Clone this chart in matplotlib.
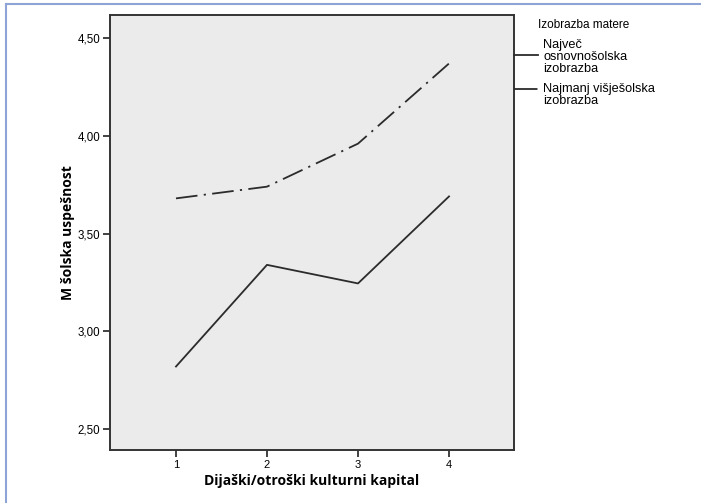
import matplotlib
matplotlib.use("Agg")
import matplotlib.pyplot as plt
from matplotlib.lines import Line2D

# data
kapital = [1, 2, 3, 4]
osnovnosolska = [2.82, 3.34, 3.245, 3.69]
visjesolska = [3.68, 3.74, 3.96, 4.37]
y_ticks = [2.5, 3.0, 3.5, 4.0, 4.5]
y_tick_labels = ["2,50", "3,00", "3,50", "4,00", "4,50"]

legend_title = "Izobrazba matere"
legend_labels = ["Največ\nosnovnošolska\nizobrazba", "Najmanj višješolska\nizobrazba"]

W, H = 701, 503
fig = plt.figure(figsize=(W / 100, H / 100), dpi=100)
ax = fig.add_axes([110 / W, 1 - 450 / H, 404 / W, 435 / H])
ax.set_facecolor("#ebebeb")

line_col = "#2b2b2b"
dashdot = (0, (12, 3.5, 1.2, 3.5))
ax.plot(kapital, osnovnosolska, color=line_col, lw=1.3)
ax.plot(kapital, visjesolska, color=line_col, lw=1.3, linestyle=dashdot)

ax.set_xlim(0.275, 4.714)
ax.set_ylim(2.393, 4.618)
ax.set_xticks(kapital)
ax.set_xticklabels([str(k) for k in kapital], fontsize=8, family="Liberation Sans")
ax.set_yticks(y_ticks)
ax.set_yticklabels(y_tick_labels, fontsize=8.3, family="Liberation Sans")
ax.tick_params(direction="out", length=5, width=1.3, color="#333333", pad=2)

for s in ax.spines.values():
    s.set_color("#333333")
    s.set_linewidth(1.4)

ax.set_xlabel("Dijaški/otroški kulturni kapital", fontsize=10,
              fontweight="bold", family="Open Sans", labelpad=3)
ax.set_ylabel("M šolska uspešnost", fontsize=10,
              fontweight="bold", family="Open Sans", labelpad=2)

# legend on the right, drawn by hand
fig.text(538 / W, 1 - 25 / H, legend_title, fontsize=8.5,
         family="Liberation Sans", va="center", ha="left")
fig.text(543 / W, 1 - 57 / H, legend_labels[0], fontsize=9.2,
         family="Liberation Sans", va="center", ha="left", linespacing=0.95)
fig.text(543 / W, 1 - 95 / H, legend_labels[1], fontsize=9.2,
         family="Liberation Sans", va="center", ha="left", linespacing=0.95)
fig.add_artist(Line2D([514 / W, 538 / W], [1 - 55 / H, 1 - 55 / H],
                      color=line_col, lw=1.3, transform=fig.transFigure))
fig.add_artist(Line2D([514 / W, 539 / W], [1 - 89 / H, 1 - 89 / H],
                      color=line_col, lw=1.3, linestyle=(0, (13, 3.5, 1.2, 10)),
                      transform=fig.transFigure))

# thin blue frame at the top and left edges
frame_col = "#8ea4d6"
fig.add_artist(Line2D([6 / W, 1], [1 - 4 / H, 1 - 4 / H], color=frame_col,
                      lw=1.5, transform=fig.transFigure))
fig.add_artist(Line2D([6 / W, 6 / W], [0, 1 - 4 / H], color=frame_col,
                      lw=1.5, transform=fig.transFigure))

fig.savefig("out.png", dpi=100)
